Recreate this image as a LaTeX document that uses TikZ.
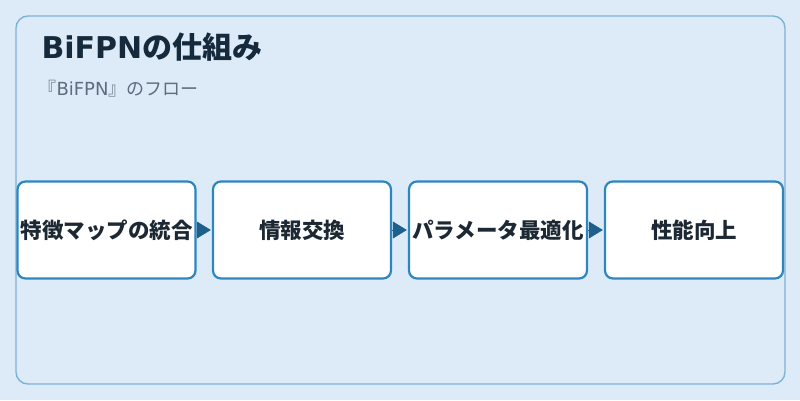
\documentclass[tikz,border=0pt]{standalone}
\usepackage{fontspec}
\setmainfont{Noto Sans CJK JP}
\newfontfamily\lat{DejaVu Sans}
\usetikzlibrary{arrows.meta}
\definecolor{bgc}{HTML}{DCEBF7}
\definecolor{framec}{HTML}{7FB3D5}
\definecolor{boxc}{HTML}{2E86C1}
\definecolor{arrc}{HTML}{1F5F8B}
\definecolor{titlec}{HTML}{152A3C}
\definecolor{subc}{HTML}{5D6D7E}
\definecolor{txtc}{HTML}{1C2833}
\tikzset{
  stepbox/.style={draw=boxc, line width=2.2pt, fill=white, rounded corners=8pt,
    minimum width=178pt, minimum height=97pt, inner sep=0pt,
    font=\fontsize{21.5pt}{24pt}\selectfont\bfseries, text=txtc},
  flow/.style={draw=arrc, fill=arrc, line width=0.5pt, -{Triangle[length=14pt,width=17pt]}, shorten >=1.1pt}
}
\begin{document}
\begin{tikzpicture}[x=1pt,y=1pt]
\fill[bgc] (0,0) rectangle (800,400);
\useasboundingbox (0,0) rectangle (800,400);
\draw[framec, line width=1.4pt, rounded corners=12pt, fill=bgc] (16,16) rectangle (785,384);
\node[anchor=west, text=titlec, font=\fontsize{30pt}{34pt}\selectfont\bfseries] (title) at (38,353) {{\lat\bfseries BiFPN}の仕組み};
\node[anchor=west, text=subc, font=\fontsize{18pt}{21pt}\selectfont] (sub) at (35,311) {『{\lat BiFPN}』のフロー};
\node[stepbox] (s1) at (106.5,170) {特徴マップの統合};
\node[stepbox] (s2) at (302,170) {情報交換};
\node[stepbox] (s3) at (498,170) {パラメータ最適化};
\node[stepbox] (s4) at (694,170) {性能向上};
\draw[flow] (s1.east) -- (s2.west);
\draw[flow] (s2.east) -- (s3.west);
\draw[flow] (s3.east) -- (s4.west);
\end{tikzpicture}
\end{document}
